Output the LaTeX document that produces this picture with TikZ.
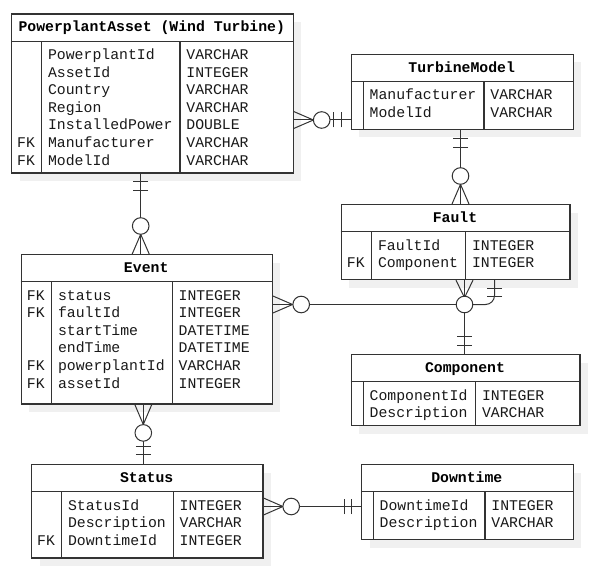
\documentclass[tikz,border=0pt]{standalone}
\usepackage{fontspec}
\newfontfamily\erfont{Liberation Mono}
\usetikzlibrary{calc}
\definecolor{lc}{HTML}{333333}
\definecolor{shc}{HTML}{F0F0F0}
\tikzset{
 tbox/.style={draw=lc, line width=1.2pt, fill=white, inner sep=0pt, rectangle},
 tline/.style={draw=lc, line width=1.2pt},
 conn/.style={draw=lc, line width=1pt},
 ttitle/.style={inner sep=0pt, font=\erfont\bfseries\fontsize{14.8}{17.6}\selectfont, text=black},
 tfield/.style={inner sep=0pt, font=\erfont\fontsize{14.8}{17.6}\selectfont, text=black!90},
 pics/crowfoot/.style={code={\draw[conn] (0,-8.5) -- (#1,0) -- (0,8.5);}},
 pics/ocirc/.style={code={\draw[conn, fill=white] (#1,0) circle (8.3pt);}},
 pics/dbar/.style 2 args={code={\draw[conn] (#1,-7.5) -- (#1,7.5) (#2,-7.5) -- (#2,7.5);}},
}
% #1 name, #2 left, #3 top, #4 right, #5 bottom, #6 c1, #7 c2, #8 title
\newcommand\ertable[8]{%
 \fill[shc] ({#2+8.5},{#3+8.5}) rectangle ({#4+8.5},{#5+8.5});
 \node[tbox, anchor=north west, minimum width={#4-#2}, minimum height={#5-#3}] (#1) at (#2,#3) {};
 \draw[tline] (#2,{#3+27.7}) -- (#4,{#3+27.7});
 \draw[tline] (#6,{#3+27.7}) -- (#6,#5);
 \draw[tline] (#7,{#3+27.7}) -- (#7,#5);
 \node[ttitle, anchor=base] (#1-title) at ({(#2+#4)/2},{#3+18.4}) {#8};
}
% #1 name, #2 top, #3 c1, #4 c2, #5 list
\newcommand\erfields[5]{%
 \foreach \f/\t [count=\i] in {#5} {
  \node[tfield, anchor=base west] (#1-f\i) at ({#3+6.2},{#2+46+(\i-1)*17.6}) {\f};
  \node[tfield, anchor=base west] (#1-t\i) at ({#4+6.2},{#2+46+(\i-1)*17.6}) {\t};
 }
}
% #1 name, #2 index, #3 left, #4 top
\newcommand\erfk[4]{%
 \node[tfield, anchor=base west] (#1-k#2) at ({#3+6},{#4+46+(#2-1)*17.6}) {FK};
}
\begin{document}
\begin{tikzpicture}[x=1pt,y=-1pt]
\fill[white] (0,0) rectangle (597,575);
\useasboundingbox (0,0) rectangle (597,575);

\ertable{PA}{11}{13.5}{292.5}{172.3}{41.7}{180}{PowerplantAsset (Wind Turbine)}
\erfields{PA}{13.5}{41.7}{180}{PowerplantId/VARCHAR,AssetId/INTEGER,Country/VARCHAR,Region/VARCHAR,InstalledPower/DOUBLE,Manufacturer/VARCHAR,ModelId/VARCHAR}
\erfk{PA}{6}{11}{13.5}
\erfk{PA}{7}{11}{13.5}

\ertable{TM}{350.7}{54}{572.7}{129}{363.3}{484}{TurbineModel}
\erfields{TM}{54}{363.3}{484}{Manufacturer/VARCHAR,ModelId/VARCHAR}

\ertable{FA}{340.7}{204}{569.3}{279}{371.7}{465.7}{Fault}
\erfields{FA}{204}{371.7}{465.7}{FaultId/INTEGER,Component/INTEGER}
\erfk{FA}{2}{340.7}{204}

\ertable{EV}{20.7}{254}{271.7}{403.3}{51.7}{172.3}{Event}
\erfields{EV}{254}{51.7}{172.3}{status/INTEGER,faultId/INTEGER,startTime/DATETIME,endTime/DATETIME,powerplantId/VARCHAR,assetId/INTEGER}
\erfk{EV}{1}{20.7}{254}
\erfk{EV}{2}{20.7}{254}
\erfk{EV}{5}{20.7}{254}
\erfk{EV}{6}{20.7}{254}

\ertable{CO}{350.7}{354}{579.3}{425}{363.3}{475.7}{Component}
\erfields{CO}{354}{363.3}{475.7}{ComponentId/INTEGER,Description/VARCHAR}

\ertable{ST}{31}{464}{262.3}{557.3}{61.7}{173.3}{Status}
\erfields{ST}{464}{61.7}{173.3}{StatusId/INTEGER,Description/VARCHAR,DowntimeId/INTEGER}
\erfk{ST}{3}{31}{464}

\ertable{DT}{361}{464}{572.7}{539}{373.3}{485}{Downtime}
\erfields{DT}{464}{373.3}{485}{DowntimeId/INTEGER,Description/VARCHAR}

% PowerplantAsset -- TurbineModel
\draw[conn] (PA.east |- 0,120) -- (TM.west |- 0,120);
\pic at (PA.east |- 0,120) {crowfoot=19.7};
\pic at (PA.east |- 0,120) {ocirc=28};
\pic[rotate=180] at (TM.west |- 0,120) {dbar={9}{17.4}};

% TurbineModel -- Fault
\draw[conn] (TM.south -| 460.5,0) -- (FA.north -| 460.5,0);
\pic[rotate=-90] at (TM.south -| 460.5,0) {dbar={8.5}{17}};
\pic[rotate=90] at (FA.north -| 460.5,0) {crowfoot=19.7};
\pic[rotate=90] at (FA.north -| 460.5,0) {ocirc=28};

% PowerplantAsset -- Event
\draw[conn] (PA.south -| 140.7,0) -- (EV.north -| 140.7,0);
\pic[rotate=-90] at (PA.south -| 140.7,0) {dbar={8}{16.8}};
\pic[rotate=90] at (EV.north -| 140.7,0) {crowfoot=19.7};
\pic[rotate=90] at (EV.north -| 140.7,0) {ocirc=28};

% Event / Fault -- Component junction
\coordinate (J) at (464.5,304.5);
\draw[conn] (EV.east |- J) -- (J);
\draw[conn] (FA.south -| J) -- (J);
\draw[conn] (J) -- (CO.north -| J);
\draw[conn, rounded corners=9pt] (J) -- (J -| 494.5,0) -- (FA.south -| 494.5,0);
\pic at (EV.east |- J) {crowfoot=19.7};
\pic at (EV.east |- J) {ocirc=28.3};
\pic[rotate=-90] at (FA.south -| J) {crowfoot=17.5};
\pic[rotate=90] at (CO.north -| J) {dbar={8.5}{17.5}};
\pic[rotate=-90] at (FA.south -| 494.5,0) {dbar={8.2}{16.5}};
\draw[conn, fill=white] (J) circle (8.3pt);

% Event -- Status
\draw[conn] (EV.south -| 143.3,0) -- (ST.north -| 143.3,0);
\pic[rotate=-90] at (EV.south -| 143.3,0) {crowfoot=20};
\pic[rotate=-90] at (EV.south -| 143.3,0) {ocirc=28.4};
\pic[rotate=90] at (ST.north -| 143.3,0) {dbar={9.5}{17.3}};

% Status -- Downtime
\draw[conn] (ST.east |- 0,506.5) -- (DT.west |- 0,506.5);
\pic at (ST.east |- 0,506.5) {crowfoot=19.4};
\pic at (ST.east |- 0,506.5) {ocirc=27.7};
\pic[rotate=180] at (DT.west |- 0,506.5) {dbar={9.3}{16.7}};
\end{tikzpicture}
\end{document}
